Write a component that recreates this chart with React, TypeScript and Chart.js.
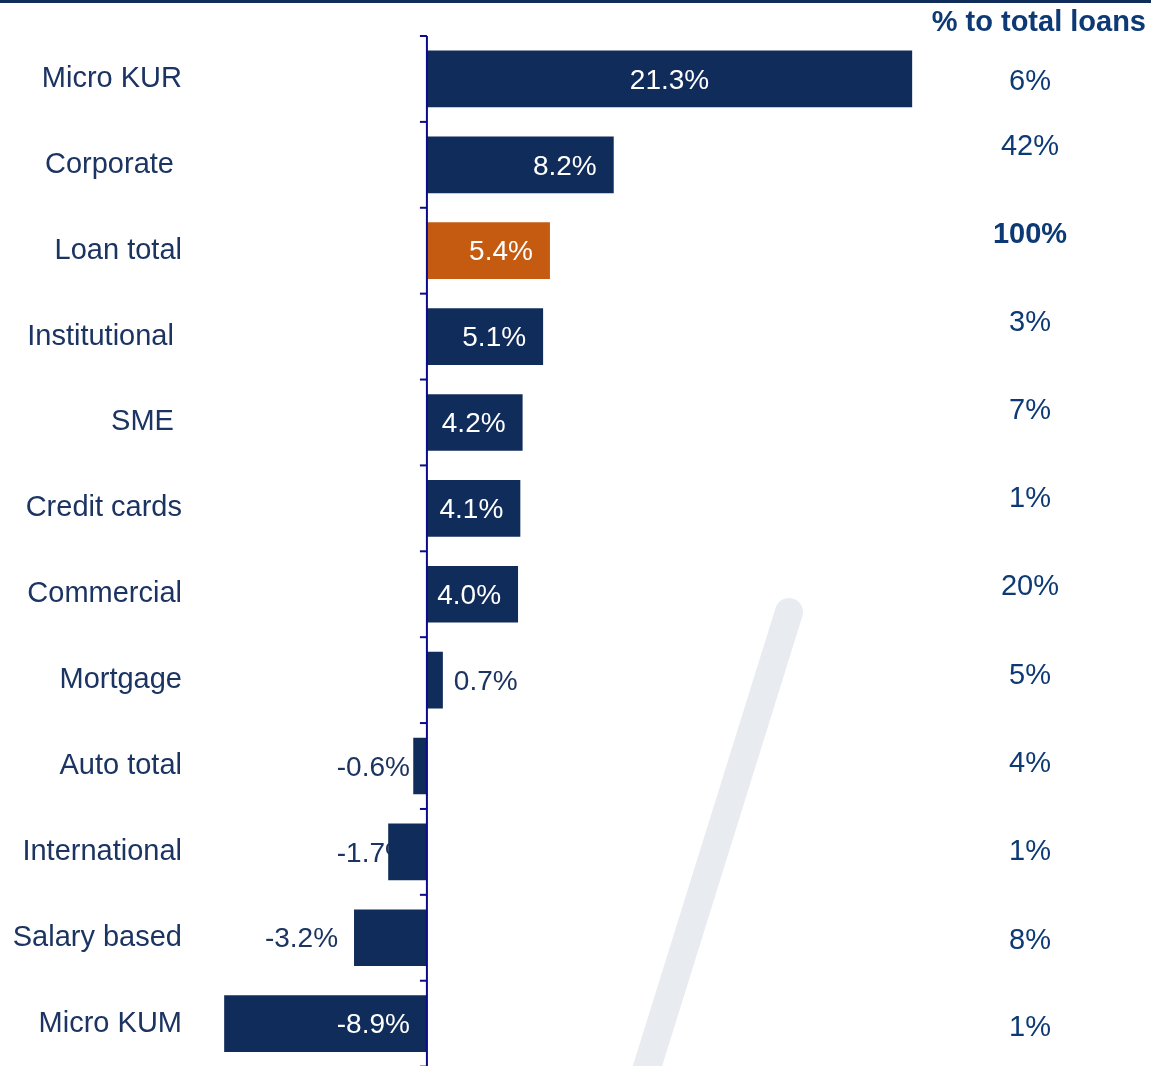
import React, { useEffect, useRef } from "react";
import { Chart, registerables } from "chart.js";

Chart.register(...registerables);

const categories = [
  "Micro KUR",
  "Corporate ",
  "Loan total",
  "Institutional ",
  "SME ",
  "Credit cards",
  "Commercial",
  "Mortgage",
  "Auto total",
  "International",
  "Salary based",
  "Micro KUM",
];
const growthValues = [21.3, 8.2, 5.4, 5.1, 4.2, 4.1, 4.0, 0.7, -0.6, -1.7, -3.2, -8.9];
const shareOfLoans = ["6%", "42%", "100%", "3%", "7%", "1%", "20%", "5%", "4%", "1%", "8%", "1%"];
const highlightCategory = "Loan total";
const shareHeader = "% to total loans";

const NAVY = "#102c5a";
const ORANGE = "#c55a11";
const AXIS = "#0b0b8c";
const LABEL = "#1b3461";
const SHARE = "#0d3a75";
const FONT = "'Liberation Sans', Arial, sans-serif";
// small vertical nudges of the right-hand column relative to each row centre (layout only)
const shareNudge = [1, -20, -18, -16, -13, -11, -9, -6, -4, -2, 1, 2];

const decorPlugin = {
  id: "decor",
  beforeDraw(chart: any) {
    const { ctx, width } = chart;
    ctx.save();
    ctx.fillStyle = NAVY;
    ctx.fillRect(0, 0, width, 3);
    ctx.strokeStyle = "#e8ebf0";
    ctx.lineWidth = 28;
    ctx.lineCap = "round";
    ctx.beginPath();
    ctx.moveTo(789, 612);
    ctx.lineTo(640, 1090);
    ctx.stroke();
    ctx.restore();
  },
  beforeDatasetsDraw(chart: any) {
    const { ctx } = chart;
    const x = chart.scales.x;
    const y = chart.scales.y;
    const x0 = x.getPixelForValue(0);
    ctx.save();
    ctx.font = `28px ${FONT}`;
    ctx.textBaseline = "middle";
    growthValues.forEach((v, i) => {
      if (v < 0 && Math.abs(v) <= 2) {
        const yc = y.getPixelForValue(i) + 2;
        ctx.fillStyle = LABEL;
        ctx.textAlign = "right";
        ctx.fillText(v.toFixed(1) + "%", x0 - 17, yc);
      }
    });
    ctx.restore();
  },
  afterDatasetsDraw(chart: any) {
    const { ctx } = chart;
    const x = chart.scales.x;
    const y = chart.scales.y;
    const x0 = x.getPixelForValue(0);
    ctx.save();
    ctx.strokeStyle = AXIS;
    ctx.lineWidth = 2;
    ctx.beginPath();
    ctx.moveTo(x0, y.getPixelForValue(-0.5));
    ctx.lineTo(x0, y.getPixelForValue(categories.length - 0.5) + 4);
    ctx.stroke();
    for (let i = 0; i <= categories.length; i++) {
      const yy = y.getPixelForValue(i - 0.5);
      ctx.beginPath();
      ctx.moveTo(x0 - 7, yy);
      ctx.lineTo(x0, yy);
      ctx.stroke();
    }
    ctx.font = `28px ${FONT}`;
    ctx.textBaseline = "middle";
    growthValues.forEach((v, i) => {
      const yc = y.getPixelForValue(i) + 2;
      const xe = x.getPixelForValue(v);
      const txt = v.toFixed(1) + "%";
      if (v >= 0) {
        if (v > 15) {
          ctx.fillStyle = "#ffffff";
          ctx.textAlign = "center";
          ctx.fillText(txt, (x0 + xe) / 2, yc);
        } else if (v > 2) {
          ctx.fillStyle = "#ffffff";
          ctx.textAlign = "right";
          ctx.fillText(txt, xe - 17, yc);
        } else {
          ctx.fillStyle = LABEL;
          ctx.textAlign = "left";
          ctx.fillText(txt, xe + 11, yc);
        }
      } else {
        const a = Math.abs(v);
        if (a > 5) {
          ctx.fillStyle = "#ffffff";
          ctx.textAlign = "right";
          ctx.fillText(txt, x0 - 17, yc);
        } else if (a > 2) {
          ctx.fillStyle = LABEL;
          ctx.textAlign = "right";
          ctx.fillText(txt, xe - 16, yc);
        }
      }
    });
    ctx.fillStyle = SHARE;
    ctx.textAlign = "right";
    ctx.font = `bold 29px ${FONT}`;
    ctx.fillText(shareHeader, 1146, 23);
    ctx.textAlign = "center";
    shareOfLoans.forEach((s, i) => {
      const isBold = categories[i] === highlightCategory;
      ctx.font = `${isBold ? "bold " : ""}29px ${FONT}`;
      ctx.fillText(s, 1030, y.getPixelForValue(i) + 2 + shareNudge[i]);
    });
    ctx.restore();
  },
};

export default function App() {
  const ref = useRef<HTMLCanvasElement | null>(null);
  useEffect(() => {
    document.body.style.margin = "0";
    if (!ref.current) return;
    const chart = new Chart(ref.current, {
      type: "bar",
      data: {
        labels: categories,
        datasets: [
          {
            data: growthValues,
            backgroundColor: categories.map((c) => (c === highlightCategory ? ORANGE : NAVY)),
            borderWidth: 0,
            barPercentage: 0.66,
            categoryPercentage: 1,
          },
        ],
      },
      options: {
        indexAxis: "y",
        animation: false,
        responsive: false,
        maintainAspectRatio: false,
        layout: { padding: { top: 36, right: 191, bottom: 0, left: 0 } },
        plugins: { legend: { display: false }, tooltip: { enabled: false } },
        scales: {
          x: {
            min: -10.4,
            max: 23.4,
            display: false,
            grid: { display: false },
          },
          y: {
            afterFit(scale: any) {
              scale.width = 190;
            },
            border: { display: false },
            grid: { display: false, drawTicks: false, tickLength: 0 },
            ticks: {
              color: LABEL,
              font: { family: FONT, size: 29 },
              padding: 8,
            },
          },
        },
      },
      plugins: [decorPlugin],
    });
    return () => chart.destroy();
  }, []);
  return (
    <div style={{ position: "fixed", left: 0, top: 0, width: 1151, height: 1066, overflow: "hidden", background: "#fff" }}>
      <canvas ref={ref} width={1151} height={1092} style={{ display: "block" }} />
    </div>
  );
}
